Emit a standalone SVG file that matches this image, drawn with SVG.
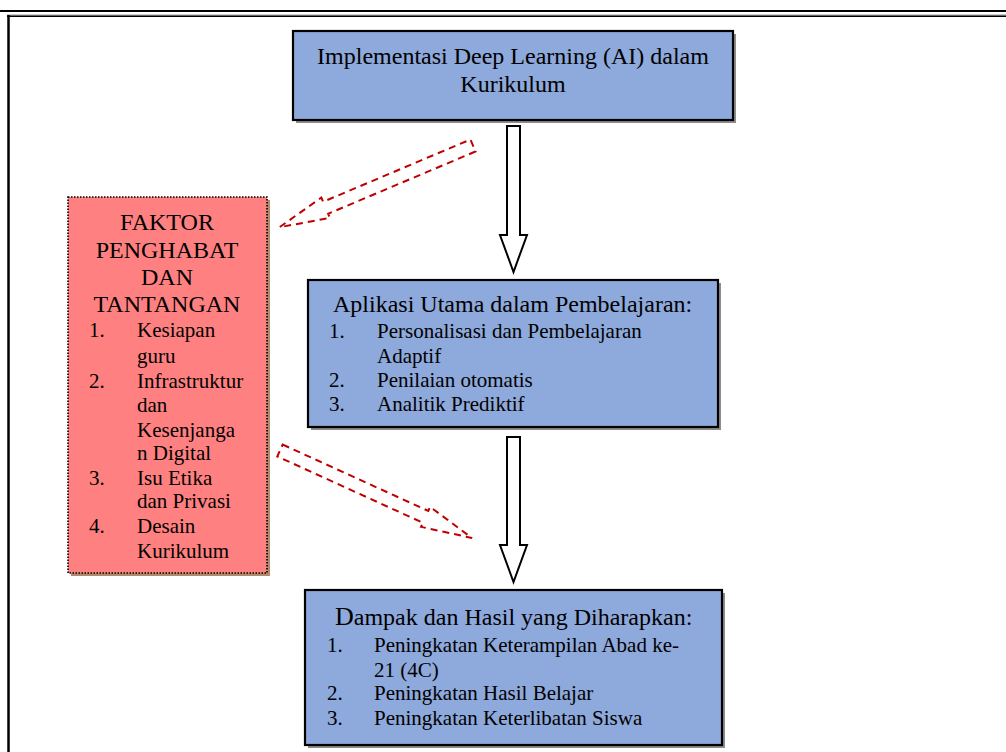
<svg xmlns="http://www.w3.org/2000/svg" width="1006" height="752" viewBox="0 0 1006 752">
<defs>
<style>
text{font-family:"Liberation Serif","Times New Roman",serif;fill:#000}
.h{font-size:24px}
.i{font-size:21px}
.blue{fill:#8EA9DB;stroke:#000;stroke-width:2.2}
.shadow{fill:#8c8c8c}
.block{fill:#fff;stroke:#000;stroke-width:2}
.dash{fill:none;stroke:#C00000;stroke-width:2;stroke-dasharray:7 5}
</style>
</defs>
<rect width="1006" height="752" fill="#fff"/>
<g id="frame">
<line x1="0" y1="11" x2="1006" y2="11" stroke="#000" stroke-width="2"/>
<line x1="7" y1="15" x2="1006" y2="15" stroke="#999" stroke-width="1"/>
<line x1="7" y1="16.3" x2="1006" y2="16.3" stroke="#000" stroke-width="1.4"/>
<line x1="8.5" y1="15" x2="8.5" y2="752" stroke="#000" stroke-width="2.5"/>
</g>
<g id="connectors">
<path class="block" d="M507,126 H520 V235 H527 L513.5,272 L500,235 H507 Z"/>
<path class="block" d="M507,437 H520 V545 H527 L513.5,582 L500,545 H507 Z"/>
<path class="dash" transform="translate(473,145.5) rotate(157.1)" d="M0,-6.5 H160 V-11 L210,0 L160,11 V6.5 H0 Z"/>
<path class="dash" transform="translate(280,450.5) rotate(24.5)" d="M0,-6.5 H160 V-11 L211,0 L160,11 V6.5 H0 Z"/>
</g>
<g id="node-implementasi">
<rect class="shadow" x="296" y="34" width="440" height="89"/>
<rect class="blue" x="293" y="31" width="440" height="89"/>
<text class="h" x="513" y="64" text-anchor="middle">Implementasi Deep Learning (AI) dalam</text>
<text class="h" x="513" y="92" text-anchor="middle">Kurikulum</text>
</g>
<g id="node-aplikasi">
<rect class="shadow" x="311" y="283" width="410" height="147"/>
<rect class="blue" x="308" y="280" width="410" height="147"/>
<text class="h" x="333" y="312">Aplikasi Utama dalam Pembelajaran:</text>
<g class="i">
<text x="329" y="338">1.</text><text x="377" y="338">Personalisasi dan Pembelajaran</text>
<text x="377" y="363">Adaptif</text>
<text x="329" y="387">2.</text><text x="377" y="387">Penilaian otomatis</text>
<text x="329" y="411">3.</text><text x="377" y="411">Analitik Prediktif</text>
</g>
</g>
<g id="node-dampak">
<rect class="shadow" x="308" y="593" width="417" height="155"/>
<rect class="blue" x="305" y="590" width="417" height="155"/>
<text class="h" x="335" y="625"><tspan font-size="26">D</tspan>ampak dan Hasil yang Diharapkan:</text>
<g class="i">
<text x="327" y="652">1.</text><text x="374" y="652">Peningkatan Keterampilan Abad ke-</text>
<text x="374" y="677">21 (4C)</text>
<text x="327" y="700">2.</text><text x="374" y="700">Peningkatan Hasil Belajar</text>
<text x="327" y="725">3.</text><text x="374" y="725">Peningkatan Keterlibatan Siswa</text>
</g>
</g>
<g id="node-faktor">
<rect x="71" y="200" width="199" height="376" fill="#b08a6a"/>
<rect x="68" y="197" width="199" height="376" fill="#FF8080" stroke="#000" stroke-width="1.6" stroke-dasharray="1.5 1.5"/>
<g class="h" text-anchor="middle">
<text x="167" y="230">FAKTOR</text>
<text x="167" y="258">PENGHABAT</text>
<text x="167" y="285">DAN</text>
<text x="167" y="312">TANTANGAN</text>
</g>
<g class="i">
<text x="89" y="337">1.</text><text x="137" y="337">Kesiapan</text>
<text x="137" y="363">guru</text>
<text x="89" y="388">2.</text><text x="137" y="388">Infrastruktur</text>
<text x="137" y="412">dan</text>
<text x="137" y="437">Kesenjanga</text>
<text x="137" y="460">n Digital</text>
<text x="89" y="485">3.</text><text x="137" y="485">Isu Etika</text>
<text x="137" y="508">dan Privasi</text>
<text x="89" y="533">4.</text><text x="137" y="533">Desain</text>
<text x="137" y="558">Kurikulum</text>
</g>
</g>
</svg>
